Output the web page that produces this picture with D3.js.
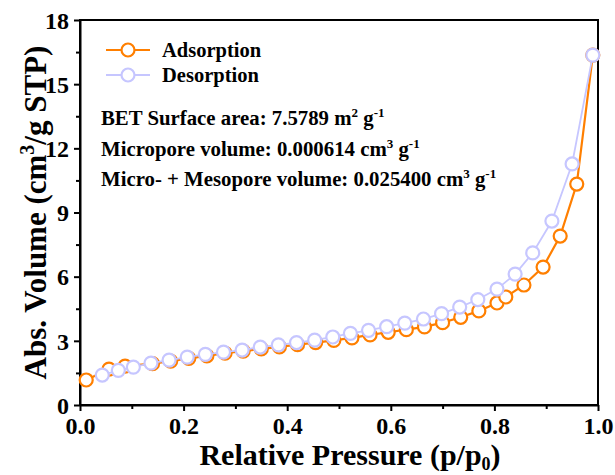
<!DOCTYPE html>
<html>
<head>
<meta charset="utf-8">
<script src="https://cdn.jsdelivr.net/npm/d3@7/dist/d3.min.js"></script>
<style>
  html, body { margin: 0; padding: 0; background: #fff; }
  svg { display: block; }
  text { font-family: "Liberation Serif", "Times New Roman", serif; font-weight: bold; fill: #000; }
</style>
</head>
<body>
<svg id="chart" width="615" height="475"></svg>
<script>
// Nitrogen isotherm: relative pressure (p/p0) vs adsorbed volume (cm3/g STP)
const adsP = [0.012, 0.056, 0.087, 0.140, 0.175, 0.210, 0.245, 0.280, 0.315, 0.350,
              0.385, 0.420, 0.455, 0.490, 0.525, 0.560, 0.595, 0.630, 0.665, 0.700,
              0.735, 0.770, 0.805, 0.822, 0.857, 0.894, 0.927, 0.959, 0.990];
const adsV = [1.17, 1.68, 1.82, 1.93, 2.05, 2.18, 2.30, 2.42, 2.52, 2.62,
              2.72, 2.82, 2.92, 3.02, 3.14, 3.28, 3.40, 3.52, 3.65, 3.85,
              4.10, 4.40, 4.77, 5.05, 5.61, 6.45, 7.90, 10.33, 16.36];
const desP = [0.043, 0.074, 0.103, 0.137, 0.172, 0.207, 0.242, 0.277, 0.313, 0.348,
              0.383, 0.418, 0.453, 0.488, 0.522, 0.557, 0.592, 0.627, 0.663, 0.698,
              0.733, 0.768, 0.805, 0.840, 0.874, 0.911, 0.950, 0.990];
const desV = [1.40, 1.62, 1.77, 1.96, 2.10, 2.24, 2.37, 2.47, 2.57, 2.71,
              2.81, 2.92, 3.03, 3.18, 3.35, 3.49, 3.66, 3.83, 4.02, 4.27,
              4.58, 4.93, 5.42, 6.12, 7.11, 8.60, 11.27, 16.36];
const xTicks = [0.0, 0.2, 0.4, 0.6, 0.8, 1.0];
const yTicks = [0, 3, 6, 9, 12, 15, 18];
const seriesNames = ["Adsorption", "Desorption"];
const seriesColors = ["#ff7f00", "#c6c6ff"];

const svg = d3.select("#chart");
const mLeft = 80, mRight = 598, mTop = 20, mBottom = 405;

const x = d3.scaleLinear().domain([0, 1]).range([mLeft, mRight]);
const y = d3.scaleLinear().domain([0, 18]).range([mBottom, mTop]);

// Minor ticks
const xMinor = d3.range(0.1, 1.0, 0.2);
const yMinor = d3.range(1.5, 18, 3);

// Frame
svg.append("rect")
  .attr("x", mLeft).attr("y", mTop)
  .attr("width", mRight - mLeft).attr("height", mBottom - mTop)
  .attr("fill", "none").attr("stroke", "#000").attr("stroke-width", 2);

const labelStyle = sel => sel
  .style("font-family", "'Liberation Serif', serif").style("font-weight", "bold")
  .attr("font-size", 24).attr("fill", "#000");

// X axis
const xAxis = svg.append("g").attr("transform", `translate(0,${mBottom})`)
  .call(d3.axisBottom(x).tickValues(xTicks).tickFormat(d3.format(".1f")).tickSize(6).tickSizeOuter(0));
svg.append("g").attr("transform", `translate(0,${mBottom})`)
  .call(d3.axisBottom(x).tickValues(xMinor).tickFormat("").tickSize(4).tickSizeOuter(0))
  .call(g => g.select(".domain").remove());
xAxis.select(".domain").attr("stroke-width", 2);
xAxis.selectAll("text").call(labelStyle).attr("y", 10).attr("dy", "0.8em");

// Y axis
const yAxis = svg.append("g").attr("transform", `translate(${mLeft},0)`)
  .call(d3.axisLeft(y).tickValues(yTicks).tickSize(6).tickSizeOuter(0));
svg.append("g").attr("transform", `translate(${mLeft},0)`)
  .call(d3.axisLeft(y).tickValues(yMinor).tickFormat("").tickSize(4).tickSizeOuter(0))
  .call(g => g.select(".domain").remove());
yAxis.select(".domain").attr("stroke-width", 2);
yAxis.selectAll("text").call(labelStyle).attr("x", -11).attr("dy", "0.34em");
svg.selectAll(".tick line").attr("stroke-width", 2);

// Axis titles
const xt = svg.append("text").attr("x", 350).attr("y", 465)
  .attr("text-anchor", "middle").attr("font-size", 30);
xt.append("tspan").text("Relative Pressure (p/p");
xt.append("tspan").attr("font-size", 18).attr("dy", 5).text("0");
xt.append("tspan").attr("dy", -5).text(")");

const yt = svg.append("text")
  .attr("transform", `translate(46,${(mTop + mBottom) / 2}) rotate(-90)`)
  .attr("text-anchor", "middle").attr("font-size", 31);
yt.append("tspan").text("Abs. Volume (cm");
yt.append("tspan").attr("font-size", 20).attr("dy", -12).text("3");
yt.append("tspan").attr("dy", 12).text("/g STP)");

// Series
const series = [
  { name: seriesNames[0], color: seriesColors[0], pts: adsP.map((p, i) => [p, adsV[i]]), width: 2.2 },
  { name: seriesNames[1], color: seriesColors[1], pts: desP.map((p, i) => [p, desV[i]]), width: 1.8 }
];
const line = d3.line().x(d => x(d[0])).y(d => y(d[1]));

series.forEach(s => {
  const g = svg.append("g");
  g.append("path").attr("d", line(s.pts))
    .attr("fill", "none").attr("stroke", s.color).attr("stroke-width", s.width);
  g.selectAll("circle").data(s.pts).join("circle")
    .attr("cx", d => x(d[0])).attr("cy", d => y(d[1])).attr("r", 6.5)
    .attr("fill", "#fff").attr("stroke", s.color).attr("stroke-width", 2.2);
});

// Legend
series.forEach((s, i) => {
  const ly = 50 + i * 25;
  svg.append("line").attr("x1", 106).attr("x2", 150).attr("y1", ly).attr("y2", ly)
    .attr("stroke", s.color).attr("stroke-width", s.width);
  svg.append("circle").attr("cx", 128).attr("cy", ly).attr("r", 6.5)
    .attr("fill", "#fff").attr("stroke", s.color).attr("stroke-width", 2.2);
  svg.append("text").attr("x", 162).attr("y", ly + 7).attr("font-size", 20.5).text(s.name);
});

// Texture summary
const notes = [
  [["BET Surface area: 7.5789 m", 0], ["2", -8], [" g", 0], ["-1", -8]],
  [["Micropore volume: 0.000614 cm", 0], ["3", -8], [" g", 0], ["-1", -8]],
  [["Micro- + Mesopore volume: 0.025400 cm", 0], ["3", -8], [" g", 0], ["-1", -8]]
];
const noteY = [125, 156, 186];
notes.forEach((parts, i) => {
  const t = svg.append("text").attr("x", 101).attr("y", noteY[i]).attr("font-size", 20.8);
  let prev = 0;
  parts.forEach(([str, off]) => {
    t.append("tspan").attr("dy", off - prev).attr("font-size", off ? 13 : 20.8).text(str);
    prev = off;
  });
});
</script>
</body>
</html>
